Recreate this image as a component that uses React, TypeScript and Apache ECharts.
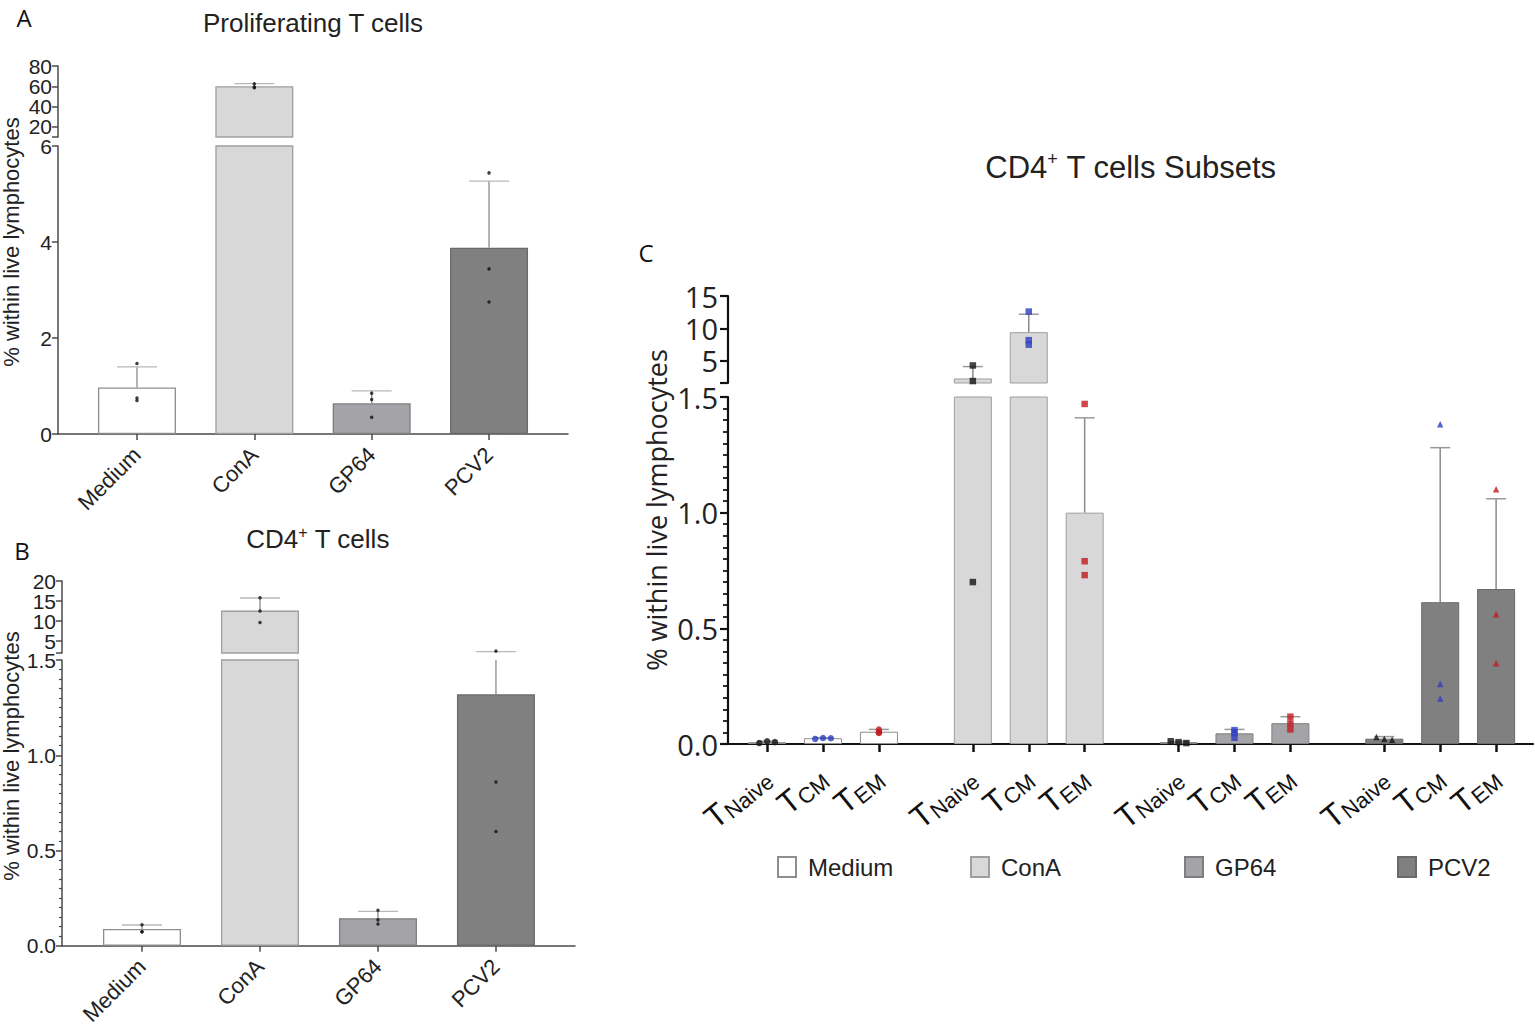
import React, { useEffect, useRef } from "react";
import * as echarts from "echarts";

// ---------- data ----------
const treatments = ["Medium", "ConA", "GP64", "PCV2"];
const subsets = ["Naive", "CM", "EM"];

// Panel A: proliferating T cells
const aMeans = [0.97, 60.0, 0.64, 3.88];
const aSDs = [0.43, 2.6, 0.26, 1.39];
const aPoints = [
  [1.47, 0.75, 0.7],
  [62.5, 58.5, 59.2],
  [0.85, 0.72, 0.35],
  [5.44, 3.44, 2.75],
];
const aUpperTicks = [10, 20, 40, 60, 80];
const aUpperLabelsOdd = [20, 60];
const aUpperLabelsEven = [40, 80];

// Panel B: CD4+ T cells
const bMeans = [0.088, 12.6, 0.145, 1.32];
const bSDs = [0.021, 3.15, 0.036, 1.02];
const bPoints = [
  [0.11, 0.074, 0.074],
  [15.8, 12.5, 9.6],
  [0.186, 0.136, 0.114],
  [2.49, 0.86, 0.6],
];
const bUpperTicks = [2, 5, 10, 15, 20];
const bUpperLabelsOdd = [5, 15];
const bUpperLabelsEven = [10, 20];

// Panel C: CD4+ subsets (rows = treatment, cols = Naive, CM, EM)
const cMeans = [
  [0.008, 0.025, 0.053],
  [2.3, 9.43, 1.0],
  [0.008, 0.046, 0.09],
  [0.023, 0.613, 0.67],
];
const cSDs = [
  [0.004, 0.002, 0.01],
  [1.83, 2.76, 0.41],
  [0.004, 0.017, 0.028],
  [0.009, 0.668, 0.39],
];
const cPoints = [
  [[0.004, 0.012, 0.008], [0.022, 0.026, 0.025], [0.062, 0.048, 0.05]],
  [[4.3, 1.9, 0.7], [12.6, 8.2, 7.5], [1.47, 0.79, 0.73]],
  [[0.012, 0.008, 0.004], [0.06, 0.049, 0.027], [0.118, 0.089, 0.063]],
  [[0.03, 0.022, 0.018], [1.382, 0.259, 0.197], [1.101, 0.561, 0.349]],
];
const cUpperTicks = [1.6, 5, 10, 15];
const cUpperLabels = [5, 10, 15];

// ---------- styles / layout ----------
const AR = '"Liberation Sans", Arial, Helvetica, sans-serif';
const OS = '"Open Sans", "Liberation Sans", sans-serif';
const fills = ["#ffffff", "#d8d8d8", "#a4a4a8", "#808080"];
const borders = ["#8e8e8e", "#9e9e9e", "#7e7e7e", "#6a6a6a"];
const subsetColors = ["#141414", "#2c3fc0", "#c21a1e"];
const symbols = ["circle", "rect", "rect", "triangle"];
const jitter = [-0.14, 0, 0.14];

const aX = [-0.673, 3.673];
const bX = [-0.678, 3.67];
const cX = [-0.7, 13.7];
const cGroupStep = 3.68;
const cPos = (g: number, s: number) => g * cGroupStep + s;
const cPositions = treatments.flatMap((_, g) => subsets.map((__, s) => cPos(g, s)));

function errRender(capHalf: number, stem: string, cap: string, lw: number) {
  return (params: any, api: any) => {
    const x = api.value(0);
    const lo = api.value(1);
    const hi = api.value(2);
    const p0 = api.coord([x, lo]);
    const p1 = api.coord([x, hi]);
    return {
      type: "group",
      children: [
        { type: "line", shape: { x1: p0[0], y1: p0[1], x2: p1[0], y2: p1[1] }, style: { stroke: stem, lineWidth: lw } },
        { type: "line", shape: { x1: p1[0] - capHalf, y1: p1[1], x2: p1[0] + capHalf, y2: p1[1] }, style: { stroke: cap, lineWidth: lw } },
      ],
    };
  };
}

function yAxis(grid: number, o: any) {
  const ax: any = {
    type: "value",
    gridIndex: grid,
    position: "left",
    offset: 0,
    min: o.min,
    max: o.max,
    axisLine: { show: !o.labelsOnly, onZero: false, lineStyle: { color: o.color, width: o.lw } },
    axisTick: { show: !o.labelsOnly, inside: false, length: o.tickLen, lineStyle: { color: o.color, width: o.lw } },
    axisLabel: {
      show: true,
      fontSize: o.fontSize,
      fontFamily: o.font,
      color: "#222",
      margin: o.margin,
      showMinLabel: true,
      showMaxLabel: true,
      hideOverlap: false,
    },
    splitLine: { show: false },
  };
  if (o.interval !== undefined) ax.interval = o.interval;
  if (o.ticks) ax.axisTick.customValues = o.ticks;
  if (o.labels) ax.axisLabel.customValues = o.labels;
  if (o.fmt) ax.axisLabel.formatter = o.fmt;
  if (o.minor) {
    ax.minorTick = { show: true, splitNumber: 10, length: o.minorLen, lineStyle: { color: o.color, width: o.lw * 0.8 } };
  }
  return ax;
}

function xHidden(grid: number, range: number[]) {
  return { type: "value", gridIndex: grid, min: range[0], max: range[1], show: false, splitLine: { show: false } };
}

function xCat(grid: number, range: number[]) {
  return {
    type: "value",
    gridIndex: grid,
    position: "bottom",
    min: range[0],
    max: range[1],
    splitLine: { show: false },
    axisLine: { show: true, onZero: false, lineStyle: { color: "#4a4a4a", width: 1.5 } },
    axisTick: { show: true, inside: false, customValues: [0, 1, 2, 3], length: 6, lineStyle: { color: "#4a4a4a", width: 1.5 } },
    axisLabel: {
      show: true,
      customValues: [0, 1, 2, 3],
      formatter: (v: number) => treatments[Math.round(v)] ?? "",
      rotate: 45,
      fontSize: 22,
      fontFamily: AR,
      color: "#222",
      margin: 17,
      showMinLabel: true,
      showMaxLabel: true,
      hideOverlap: false,
    },
  };
}

function simplePanel(series: any[], k: number, means: number[], sds: number[], pts: number[][], name: string) {
  series.push({
    name: name + "bars" + k,
    type: "bar",
    xAxisIndex: k,
    yAxisIndex: k,
    barWidth: 78,
    clip: true,
    z: 2,
    data: means.map((m, i) => ({
      value: [i, m],
      itemStyle: { color: fills[i], borderColor: borders[i], borderWidth: 1.3 },
    })),
  });
  series.push({
    name: name + "err" + k,
    type: "custom",
    xAxisIndex: k,
    yAxisIndex: k,
    clip: true,
    z: 3,
    encode: { x: 0, y: [1, 2] },
    renderItem: errRender(20, "#8a8a8a", "#b8b8b8", 1.3),
    data: means.map((m, i) => [i, m, m + sds[i]]),
  });
  series.push({
    name: name + "pts" + k,
    type: "scatter",
    xAxisIndex: k,
    yAxisIndex: k,
    clip: true,
    z: 4,
    symbolSize: 3.5,
    itemStyle: { color: "#111" },
    data: pts.flatMap((arr, i) => arr.map((v) => [i, v])),
  });
}

function buildOption() {
  const series: any[] = [];
  [0, 1].forEach((k) => simplePanel(series, k, aMeans, aSDs, aPoints, "A"));
  [2, 3].forEach((k) => simplePanel(series, k, bMeans, bSDs, bPoints, "B"));

  treatments.forEach((t, g) => {
    [4, 5].forEach((k) => {
      series.push({
        name: t,
        type: "bar",
        xAxisIndex: k,
        yAxisIndex: k,
        barWidth: 38,
        barGap: "-100%",
        clip: true,
        z: 2,
        itemStyle: { color: fills[g], borderColor: borders[g], borderWidth: 1 },
        data: subsets.map((_, s) => [cPos(g, s), cMeans[g][s]]),
      });
    });
  });
  [4, 5].forEach((k) => {
    series.push({
      name: "Cerr" + k,
      type: "custom",
      xAxisIndex: k,
      yAxisIndex: k,
      clip: true,
      z: 3,
      encode: { x: 0, y: [1, 2] },
      renderItem: errRender(10, "#8a8a8a", "#9a9a9a", 1.5),
      data: treatments.flatMap((_, g) => subsets.map((__, s) => [cPos(g, s), cMeans[g][s], cMeans[g][s] + cSDs[g][s]])),
    });
    series.push({
      name: "Cpts" + k,
      type: "scatter",
      xAxisIndex: k,
      yAxisIndex: k,
      clip: true,
      z: 4,
      symbolSize: 6.5,
      data: treatments.flatMap((_, g) =>
        subsets.flatMap((__, s) =>
          cPoints[g][s].map((v, j) => ({
            value: [cPos(g, s) + (cMeans[g][s] < 0.04 ? jitter[j] : 0), v],
            symbol: symbols[g],
            itemStyle: { color: subsetColors[s] },
          }))
        )
      ),
    });
  });

  const abAxis = { color: "#4a4a4a", lw: 1.5, tickLen: 6, fontSize: 21, font: AR, margin: 6 };
  const cAxis = { color: "#111", lw: 2.2, tickLen: 8, fontSize: 29, font: OS, margin: 10 };

  const legendLeft = [777, 970, 1184, 1397];

  return {
    animation: false,
    backgroundColor: "#ffffff",
    grid: [
      { left: 58, top: 66, width: 510, height: 71 },
      { left: 58, top: 146, width: 510, height: 288 },
      { left: 62, top: 581, width: 513, height: 72 },
      { left: 62, top: 660, width: 513, height: 289 },
      { left: 728, top: 296, width: 805, height: 87 },
      { left: 728, top: 397, width: 805, height: 347 },
    ],
    xAxis: [
      xHidden(0, aX),
      xCat(1, aX),
      xHidden(2, bX),
      xCat(3, bX),
      xHidden(4, cX),
      {
        type: "value",
        gridIndex: 5,
        position: "bottom",
        min: cX[0],
        max: cX[1],
        splitLine: { show: false },
        axisLine: { show: true, onZero: false, lineStyle: { color: "#111", width: 2.2 } },
        axisTick: { show: true, inside: false, customValues: cPositions, length: 8, lineStyle: { color: "#111", width: 2.5 } },
        axisLabel: {
          show: true,
          customValues: cPositions,
          rotate: 39,
          margin: 30,
          showMinLabel: true,
          showMaxLabel: true,
          hideOverlap: false,
          formatter: (v: number) => {
            const idx = cPositions.findIndex((p) => Math.abs(p - v) < 0.01);
            return idx < 0 ? "" : `{t|T}{s|${subsets[idx % 3]}}`;
          },
          rich: {
            t: { fontSize: 32, fontFamily: AR, color: "#111", lineHeight: 34 },
            s: { fontSize: 22, fontFamily: AR, color: "#111", lineHeight: 22, verticalAlign: "bottom" },
          },
        },
      },
    ],
    yAxis: [
      yAxis(0, { ...abAxis, min: 10, max: 80, ticks: aUpperTicks, labels: aUpperLabelsOdd }),
      yAxis(1, { ...abAxis, min: 0, max: 6, interval: 2 }),
      yAxis(2, { ...abAxis, min: 2, max: 20, ticks: bUpperTicks, labels: bUpperLabelsOdd }),
      yAxis(3, { ...abAxis, min: 0, max: 1.5, interval: 0.5, minor: true, minorLen: 3, fmt: (v: number) => v.toFixed(1) }),
      yAxis(4, { ...cAxis, min: 1.6, max: 15, ticks: cUpperTicks, labels: cUpperLabels }),
      yAxis(5, { ...cAxis, min: 0, max: 1.5, interval: 0.5, minor: true, minorLen: 5, fmt: (v: number) => v.toFixed(1) }),
      // label-only companions for the crowded upper segments
      yAxis(0, { ...abAxis, min: 10, max: 80, labelsOnly: true, ticks: aUpperTicks, labels: aUpperLabelsEven }),
      yAxis(2, { ...abAxis, min: 2, max: 20, labelsOnly: true, ticks: bUpperTicks, labels: bUpperLabelsEven }),
    ],
    legend: treatments.map((t, i) => ({
      data: [t],
      left: legendLeft[i],
      top: 855,
      padding: 0,
      icon: "rect",
      itemWidth: 18,
      itemHeight: 20,
      selectedMode: false,
      textStyle: { fontSize: 24, fontFamily: AR, color: "#222", padding: [0, 0, 0, 7] },
    })),
    graphic: [
      { type: "text", x: 24, y: 17, style: { text: "A", fontSize: 24, fontFamily: OS, fill: "#111", align: "center", verticalAlign: "middle" } },
      { type: "text", x: 22, y: 550, style: { text: "B", fontSize: 24, fontFamily: OS, fill: "#111", align: "center", verticalAlign: "middle" } },
      { type: "text", x: 646, y: 252, style: { text: "C", fontSize: 24, fontFamily: OS, fill: "#111", align: "center", verticalAlign: "middle" } },
      { type: "text", x: 313, y: 23, style: { text: "Proliferating T cells", fontSize: 26, fontFamily: AR, fill: "#222", align: "center", verticalAlign: "middle" } },
      {
        type: "text",
        x: 318,
        y: 539,
        style: {
          text: "{a|CD4}{s|+}{a| T cells}",
          align: "center",
          verticalAlign: "middle",
          rich: {
            a: { fontSize: 26, fontFamily: AR, fill: "#222", lineHeight: 30 },
            s: { fontSize: 16, fontFamily: AR, fill: "#222", lineHeight: 16, verticalAlign: "top" },
          },
        },
      },
      {
        type: "text",
        x: 1131,
        y: 167,
        style: {
          text: "{a|CD4}{s|+}{a| T cells Subsets}",
          align: "center",
          verticalAlign: "middle",
          rich: {
            a: { fontSize: 31, fontFamily: AR, fill: "#222", lineHeight: 34 },
            s: { fontSize: 18, fontFamily: AR, fill: "#222", lineHeight: 18, verticalAlign: "top" },
          },
        },
      },
      { type: "text", x: 11, y: 242, rotation: Math.PI / 2, style: { text: "% within live lymphocytes", fontSize: 22, fontFamily: AR, fill: "#222", align: "center", verticalAlign: "middle" } },
      { type: "text", x: 11, y: 756, rotation: Math.PI / 2, style: { text: "% within live lymphocytes", fontSize: 22, fontFamily: AR, fill: "#222", align: "center", verticalAlign: "middle" } },
      { type: "text", x: 656, y: 510, rotation: Math.PI / 2, style: { text: "% within live lymphocytes", fontSize: 27, fontFamily: OS, fill: "#222", align: "center", verticalAlign: "middle" } },
    ],
    series,
  };
}

export default function App() {
  const ref = useRef<HTMLDivElement>(null);
  useEffect(() => {
    document.body.style.margin = "0";
    const chart = echarts.init(ref.current as HTMLDivElement, undefined, { renderer: "svg" });
    chart.setOption(buildOption() as any);
    return () => chart.dispose();
  }, []);
  return <div ref={ref} style={{ width: 1535, height: 1028 }} />;
}
